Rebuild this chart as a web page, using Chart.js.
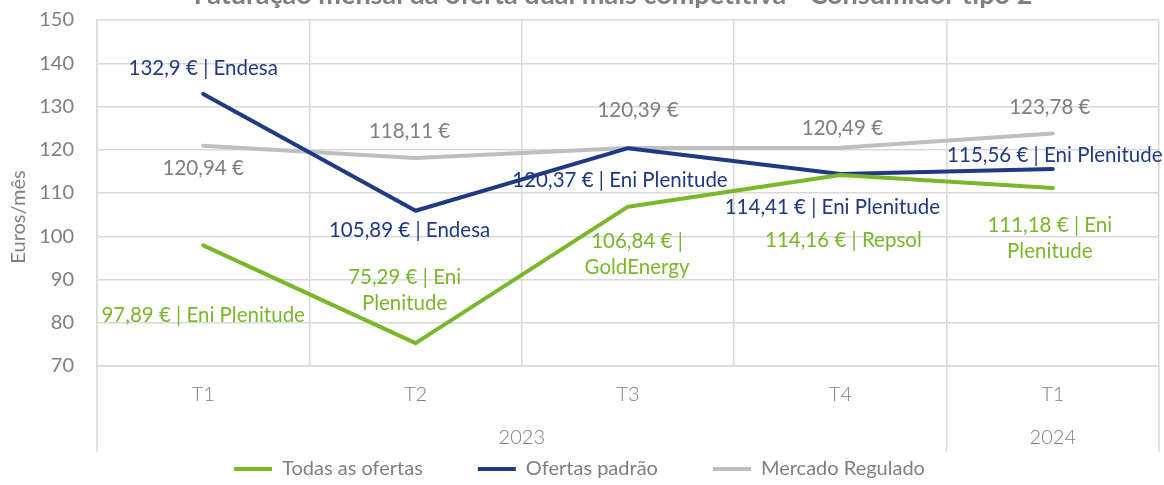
<!DOCTYPE html>
<html>
<head>
<meta charset="utf-8">
<script src="https://cdn.jsdelivr.net/npm/chart.js@4.4.1/dist/chart.umd.min.js"></script>
<style>
  html, body { margin: 0; padding: 0; background: #fff; }
  #wrap { width: 1164px; height: 485px; position: relative; }
</style>
</head>
<body>
<div id="wrap"><canvas id="myChart"></canvas></div>
<script>
// data
const quarters = ['T1', 'T2', 'T3', 'T4', 'T1'];
const years = ['2023', '2023', '2023', '2023', '2024'];

const todasValues = [97.89, 75.29, 106.84, 114.16, 111.18];
const todasSuppliers = ['Eni Plenitude', 'Eni Plenitude', 'GoldEnergy', 'Repsol', 'Eni Plenitude'];

const padraoValues = [132.9, 105.89, 120.37, 114.41, 115.56];
const padraoSuppliers = ['Endesa', 'Endesa', 'Eni Plenitude', 'Eni Plenitude', 'Eni Plenitude'];

const reguladoValues = [120.94, 118.11, 120.39, 120.49, 123.78];

const yTicks = [70, 80, 90, 100, 110, 120, 130, 140, 150];

const chartTitle = 'Faturação mensal da oferta dual mais competitiva - Consumidor tipo 2';
const yTitle = 'Euros/mês';

// styling
const GREEN = '#7AB72B';
const NAVY = '#1F3A82';
const GREY_LINE = '#BFBFBF';
const GREY_TEXT = '#7F7F7F';
const GRID = '#D9D9D9';
const FONT = 'Lato, "Open Sans", sans-serif';

// where each data label sits relative to its point (dx, dy, wrap width)
const labelStyle = [
    [{dx: 0, dy: 70}, {dx: -11, dy: -53, wrap: 150}, {dx: 9, dy: 48, wrap: 150}, {dx: 3, dy: 65}, {dx: -3, dy: 50, wrap: 150}],
    [{dx: 0, dy: -26}, {dx: -6, dy: 20}, {dx: -8, dy: 32}, {dx: -8, dy: 33}, {dx: 2, dy: -14}],
    [{dx: 0, dy: 23}, {dx: -6, dy: -27}, {dx: 10, dy: -38}, {dx: 2, dy: -19}, {dx: -3, dy: -26}]
];

function euro(v) {
    return String(v).replace('.', ',') + ' €';
}

const todasLabels = todasValues.map((v, i) => euro(v) + ' | ' + todasSuppliers[i]);
const padraoLabels = padraoValues.map((v, i) => euro(v) + ' | ' + padraoSuppliers[i]);
const reguladoLabels = reguladoValues.map(v => euro(v));

function wrapText(ctx, text, maxWidth) {
    if (!maxWidth) return [text];
    const words = text.split(' ');
    const lines = [];
    let line = '';
    words.forEach(w => {
        const test = line ? line + ' ' + w : w;
        if (line && ctx.measureText(test).width > maxWidth) {
            lines.push(line);
            line = w;
        } else {
            line = test;
        }
    });
    if (line) lines.push(line);
    return lines;
}

const extrasPlugin = {
    id: 'extras',
    beforeDraw(chart) {
        const ctx = chart.ctx;
        const area = chart.chartArea;
        const x = chart.scales.x;
        ctx.save();

        // title (top part falls outside the picture)
        ctx.fillStyle = GREY_TEXT;
        ctx.font = 'bold 27px ' + FONT;
        ctx.textAlign = 'center';
        ctx.textBaseline = 'alphabetic';
        ctx.fillText(chartTitle, 613, 4);

        // y axis title
        ctx.save();
        ctx.translate(19, 217);
        ctx.rotate(-Math.PI / 2);
        ctx.font = '20px ' + FONT;
        ctx.textBaseline = 'middle';
        ctx.fillText(yTitle, 0, 0);
        ctx.restore();

        // year group separators and labels
        ctx.strokeStyle = GRID;
        ctx.lineWidth = 1.5;
        const bounds = [area.left];
        for (let i = 1; i < years.length; i++) {
            if (years[i] !== years[i - 1]) {
                bounds.push((x.getPixelForValue(i - 1) + x.getPixelForValue(i)) / 2);
            }
        }
        bounds.push(area.right);
        bounds.forEach(b => {
            ctx.beginPath();
            ctx.moveTo(b, area.bottom);
            ctx.lineTo(b, 452);
            ctx.stroke();
        });
        ctx.fillStyle = GREY_TEXT;
        ctx.font = '300 20px ' + FONT;
        ctx.textBaseline = 'middle';
        for (let g = 0; g < bounds.length - 1; g++) {
            const idx = years.findIndex((y, i) => x.getPixelForValue(i) > bounds[g] && x.getPixelForValue(i) < bounds[g + 1]);
            ctx.fillText(years[idx], (bounds[g] + bounds[g + 1]) / 2, 438);
        }
        ctx.restore();
    },
    afterDatasetsDraw(chart) {
        const ctx = chart.ctx;
        ctx.save();
        ctx.font = '20.5px ' + FONT;
        ctx.textAlign = 'center';
        ctx.textBaseline = 'middle';
        chart.data.datasets.forEach((ds, di) => {
            const meta = chart.getDatasetMeta(di);
            ctx.fillStyle = ds.labelColor;
            meta.data.forEach((pt, j) => {
                const st = labelStyle[di][j];
                const lines = wrapText(ctx, ds.labels[j], st.wrap);
                const lh = 26;
                const cx = pt.x + st.dx;
                const cy = pt.y + st.dy - (lines.length - 1) * lh / 2;
                lines.forEach((l, k) => ctx.fillText(l, cx, cy + k * lh));
            });
        });
        ctx.restore();
    }
};

function lineDataset(label, values, labels, color, textColor) {
    return {
        label: label,
        data: values,
        labels: labels,
        labelColor: textColor,
        borderColor: color,
        backgroundColor: color,
        borderWidth: 4,
        pointRadius: 0,
        tension: 0,
        borderCapStyle: 'round',
        borderJoinStyle: 'round'
    };
}

function renderChart() {
    const ctx = document.getElementById('myChart').getContext('2d');
    const myChart = new Chart(ctx, {
        type: 'line',
        data: {
            labels: quarters,
            datasets: [
                lineDataset('Todas as ofertas', todasValues, todasLabels, GREEN, GREEN),
                lineDataset('Ofertas padrão', padraoValues, padraoLabels, NAVY, NAVY),
                lineDataset('Mercado Regulado', reguladoValues, reguladoLabels, GREY_LINE, GREY_TEXT)
            ]
        },
        options: {
            responsive: true,
            maintainAspectRatio: false,
            animation: false,
            layout: {
                padding: { top: 20, right: 5, left: 0, bottom: -4 }
            },
            plugins: {
                title: { display: false },
                tooltip: { enabled: false },
                legend: {
                    position: 'bottom',
                    labels: {
                        color: GREY_TEXT,
                        font: { family: FONT, size: 20 },
                        boxWidth: 38,
                        boxHeight: 4,
                        padding: 55,
                        generateLabels: (chart) => chart.data.datasets.map((ds, i) => ({
                            text: ds.label,
                            fillStyle: ds.borderColor,
                            strokeStyle: ds.borderColor,
                            lineWidth: 0,
                            fontColor: GREY_TEXT,
                            hidden: false,
                            datasetIndex: i
                        }))
                    }
                }
            },
            scales: {
                x: {
                    offset: true,
                    grid: { color: GRID, lineWidth: 1.5, offset: true, drawTicks: false },
                    border: { color: GRID, width: 1.5 },
                    ticks: {
                        color: GREY_TEXT,
                        font: { family: FONT, size: 20, weight: '300' },
                        padding: 17,
                        maxRotation: 0
                    },
                    afterFit: (scale) => {
                        scale.height = 38;
                        scale.paddingLeft = 0;
                        scale.paddingRight = 0;
                    }
                },
                y: {
                    min: yTicks[0],
                    max: yTicks[yTicks.length - 1],
                    afterBuildTicks: (scale) => { scale.ticks = yTicks.map(v => ({ value: v })); },
                    grid: { color: GRID, lineWidth: 1.5, drawTicks: false },
                    border: { color: GRID, width: 1.5 },
                    ticks: {
                        color: GREY_TEXT,
                        font: { family: FONT, size: 20 },
                        padding: 23
                    },
                    afterFit: (scale) => {
                        scale.width = 97;
                        scale.paddingTop = 0;
                        scale.paddingBottom = 0;
                    }
                }
            }
        },
        plugins: [extrasPlugin]
    });
}

document.addEventListener('DOMContentLoaded', renderChart);
</script>
</body>
</html>
